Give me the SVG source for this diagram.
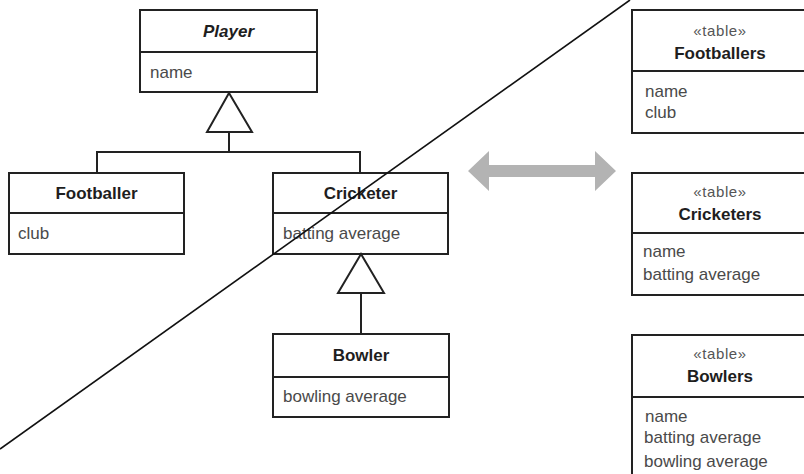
<svg xmlns="http://www.w3.org/2000/svg" width="804" height="474" viewBox="0 0 804 474">
  <style>
    .box { fill: #fff; stroke: #222; stroke-width: 2; }
    .div { stroke: #222; stroke-width: 2; }
    .title { font-family: "Liberation Sans", Arial, sans-serif; font-size: 17px; font-weight: bold; fill: #1e1e1e; text-anchor: middle; }
    .attr { font-family: "Liberation Sans", Arial, sans-serif; font-size: 17px; fill: #4a4a4a; }
    .stereo { font-family: "Liberation Sans", Arial, sans-serif; font-size: 15px; fill: #555; text-anchor: middle; letter-spacing: 0.6px; }
    .edge { fill: none; stroke: #222; stroke-width: 2; }
    .tri { fill: #fff; stroke: #222; stroke-width: 2; stroke-linejoin: miter; }
  </style>

  <!-- class model -->
  <g id="player">
    <rect class="box" x="140" y="10" width="177" height="82"/>
    <line class="div" x1="140" y1="52" x2="317" y2="52"/>
    <text class="title" x="228.5" y="37" font-style="italic">Player</text>
    <text class="attr" x="150" y="78">name</text>
  </g>

  <g id="footballer">
    <rect class="box" x="9" y="173" width="175" height="81"/>
    <line class="div" x1="9" y1="213" x2="184" y2="213"/>
    <text class="title" x="96.5" y="199">Footballer</text>
    <text class="attr" x="18" y="239">club</text>
  </g>

  <g id="cricketer">
    <rect class="box" x="273" y="173" width="175" height="81"/>
    <line class="div" x1="273" y1="213" x2="448" y2="213"/>
    <text class="title" x="360.5" y="199">Cricketer</text>
    <text class="attr" x="283" y="239">batting average</text>
  </g>

  <g id="bowler">
    <rect class="box" x="273" y="334" width="176" height="83"/>
    <line class="div" x1="273" y1="377" x2="449" y2="377"/>
    <text class="title" x="361" y="361">Bowler</text>
    <text class="attr" x="283" y="402">bowling average</text>
  </g>

  <!-- generalisation connectors -->
  <g id="connectors">
    <polyline class="edge" points="97,173 97,152 360,152 360,173"/>
    <line class="edge" x1="229" y1="132" x2="229" y2="152"/>
    <polygon class="tri" points="229,93 207,132 252,132"/>
    <line class="edge" x1="361" y1="293" x2="361" y2="334"/>
    <polygon class="tri" points="361,254 338,293 384,293"/>
  </g>

  <!-- mapping arrow -->
  <g id="mapping-arrow">
    <polygon fill="#b3b3b3" points="468,171 489,151 489,165 595,165 595,151 616,171 595,191 595,177 489,177 489,191"/>
  </g>

  <!-- database tables -->
  <g id="table-footballers">
    <rect class="box" x="632" y="10" width="180" height="123"/>
    <line class="div" x1="632" y1="71" x2="812" y2="71"/>
    <text class="stereo" x="720" y="36">«table»</text>
    <text class="title" x="720" y="59">Footballers</text>
    <text class="attr" x="645" y="97">name</text>
    <text class="attr" x="645" y="118">club</text>
  </g>

  <g id="table-cricketers">
    <rect class="box" x="632" y="173" width="180" height="122"/>
    <line class="div" x1="632" y1="233" x2="812" y2="233"/>
    <text class="stereo" x="720" y="197">«table»</text>
    <text class="title" x="720" y="220">Cricketers</text>
    <text class="attr" x="643" y="257">name</text>
    <text class="attr" x="643" y="280">batting average</text>
  </g>

  <g id="table-bowlers">
    <rect class="box" x="632" y="335" width="180" height="150"/>
    <line class="div" x1="632" y1="397" x2="812" y2="397"/>
    <text class="stereo" x="720" y="359">«table»</text>
    <text class="title" x="720" y="382">Bowlers</text>
    <text class="attr" x="645" y="422">name</text>
    <text class="attr" x="644" y="443">batting average</text>
    <text class="attr" x="644" y="467">bowling average</text>
  </g>

  <!-- diagonal strike line -->
  <line x1="630" y1="0" x2="0" y2="449" stroke="#111" stroke-width="1.6"/>
</svg>
